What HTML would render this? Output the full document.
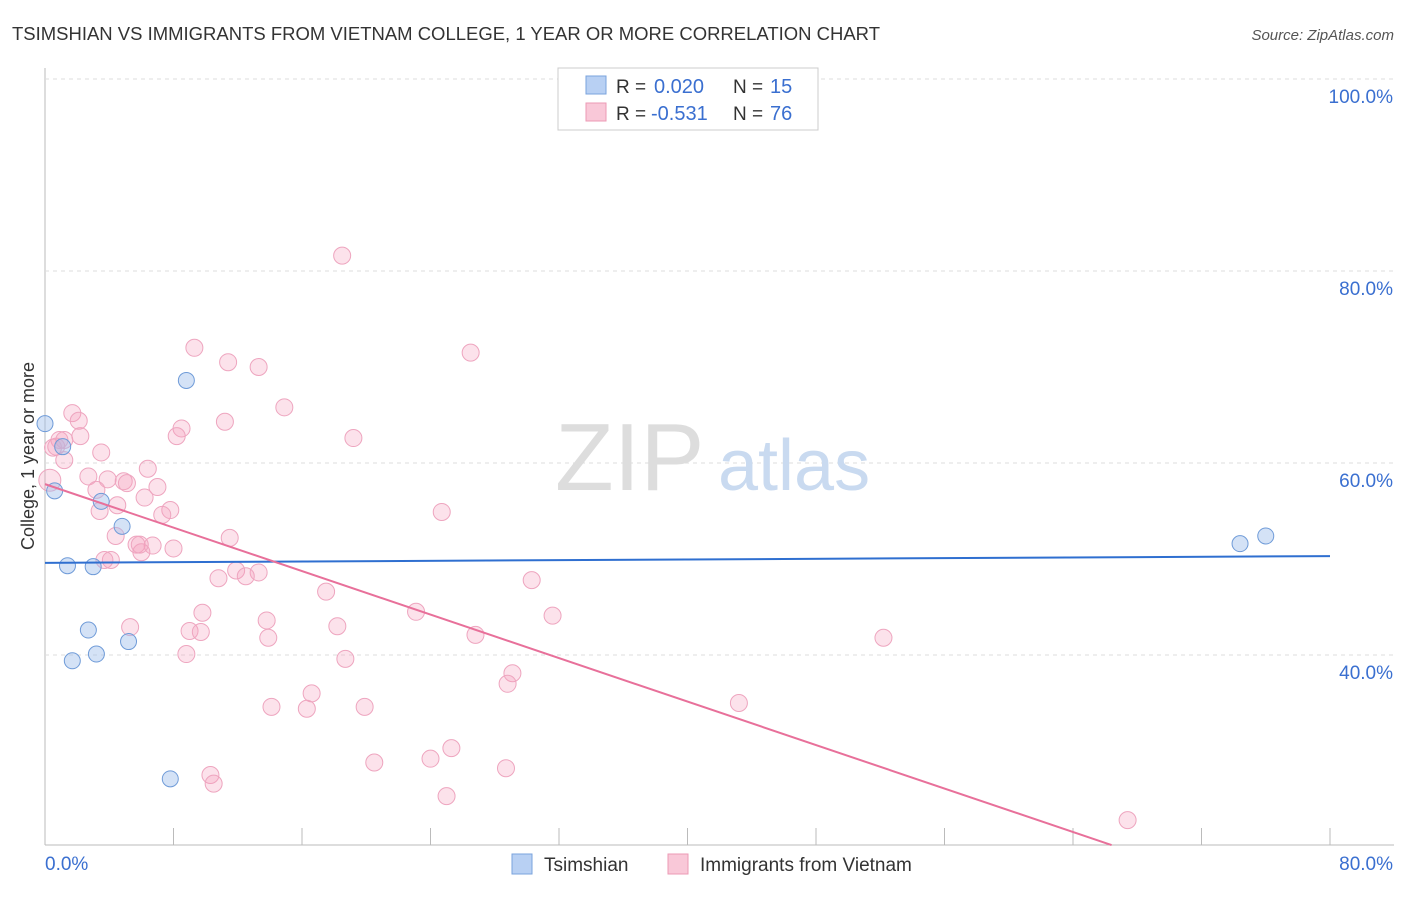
<!DOCTYPE html>
<html><head><meta charset="utf-8">
<style>
body{margin:0;background:#fff;font-family:"Liberation Sans",sans-serif;}
svg text{font-family:"Liberation Sans",sans-serif;}
</style></head>
<body>
<svg id="chart" width="1406" height="892">
<text x="12" y="40" font-size="18" fill="#333" textLength="868" lengthAdjust="spacingAndGlyphs">TSIMSHIAN VS IMMIGRANTS FROM VIETNAM COLLEGE, 1 YEAR OR MORE CORRELATION CHART</text>
<text x="1394" y="40" font-size="15" fill="#555" text-anchor="end" font-style="italic">Source: ZipAtlas.com</text>
<g id="grid"></g>
<text x="555" y="490" font-size="96" fill="#ddd" font-family="Liberation Serif">ZIP</text>
<text x="718" y="490" font-size="72" fill="#c9daf0">atlas</text>
<g id="marks"></g>
<text transform="translate(34,456) rotate(-90)" font-size="18" fill="#333" text-anchor="middle">College, 1 year or more</text>
<g>
<rect x="558" y="68" width="260" height="62" fill="#fff" stroke="#ccc"/>
<rect x="586" y="76" width="20" height="18" fill="#b8d0f3" stroke="#7aa3dd"/>
<rect x="586" y="103" width="20" height="18" fill="#f9c8d8" stroke="#ec9ab5"/>
<text x="616" y="93" font-size="19" fill="#333">R =</text>
<text x="654" y="93" font-size="20" fill="#3a6fd0">0.020</text>
<text x="733" y="93" font-size="19" fill="#333">N =</text>
<text x="770" y="93" font-size="20" fill="#3a6fd0">15</text>
<text x="616" y="120" font-size="19" fill="#333">R =</text>
<text x="651" y="120" font-size="20" fill="#3a6fd0">-0.531</text>
<text x="733" y="120" font-size="19" fill="#333">N =</text>
<text x="770" y="120" font-size="20" fill="#3a6fd0">76</text>
</g>
<g>
<rect x="512" y="854" width="20" height="20" fill="#b8d0f3" stroke="#7aa3dd"/>
<text x="544" y="871" font-size="19" fill="#333">Tsimshian</text>
<rect x="668" y="854" width="20" height="20" fill="#f9c8d8" stroke="#ec9ab5"/>
<text x="700" y="871" font-size="19" fill="#333">Immigrants from Vietnam</text>
</g>
</svg>
<script>
const xTicks=[0,8,16,24,32,40,48,56,64,72,80];
const yTicks=[40,60,80,100];
const yTickLabels=["40.0%","60.0%","80.0%","100.0%"];
const xTickLabels=["0.0%","80.0%"];
const blueX=[0,0.6,1.1,1.4,1.7,2.7,3.0,3.2,3.5,4.8,5.2,7.8,8.8,74.4,76.0];
const blueY=[64.1,57.1,61.7,49.3,39.4,42.6,49.2,40.1,56.0,53.4,41.4,27.1,68.6,51.6,52.4];
const pinkX=[18.5,9.3,26.5,11.4,13.3,14.9,1.7,2.1,11.2,8.5,8.2,19.2,1.2,2.2,0.7,3.5,6.4,2.7,3.9,4.9,5.1,7.0,3.2,6.2,4.5,7.8,3.4,7.3,24.7,4.4,11.5,5.7,6.7,8.0,6.0,4.1,11.9,13.3,10.8,12.5,30.3,17.5,9.8,23.1,13.8,31.6,18.2,5.3,9.0,9.7,13.9,26.8,52.2,8.8,18.7,29.1,28.8,16.6,43.2,14.1,16.3,19.9,25.3,24.0,20.5,28.7,10.3,10.5,25.0,67.4,0.3,0.9,1.2,3.7,5.9,0.5];
const pinkY=[81.6,72.0,71.5,70.5,70.0,65.8,65.2,64.4,64.3,63.6,62.8,62.6,62.4,62.8,61.7,61.1,59.4,58.6,58.3,58.1,57.9,57.5,57.2,56.4,55.6,55.1,55.0,54.6,54.9,52.4,52.2,51.5,51.4,51.1,50.7,49.9,48.8,48.6,48.0,48.2,47.8,46.6,44.4,44.5,43.6,44.1,43.0,42.9,42.5,42.4,41.8,42.1,41.8,40.1,39.6,38.1,37.0,36.0,35.0,34.6,34.4,34.6,30.3,29.2,28.8,28.2,27.5,26.6,25.3,22.8,58.2,62.4,60.3,49.9,51.5,61.6];
const blueLine=[[0,49.6],[80,50.3]];
const pinkLine=[[0,57.8],[66.4,20.2]];
const X=v=>45+v*1285/80, Y=v=>1039-v*9.6;
const NS="http://www.w3.org/2000/svg";
const g=document.getElementById('grid'), m=document.getElementById('marks');
function mk(tag,attrs,parent){const e=document.createElementNS(NS,tag);for(const k in attrs)e.setAttribute(k,attrs[k]);parent.appendChild(e);return e;}
let ax=mk('line',{x1:45,y1:68,x2:45,y2:845,stroke:'#bbb'},g);


let bx=mk('line',{x1:45,y1:845,x2:1394,y2:845,stroke:'#bbb'},g);


yTicks.forEach((t,i)=>{
 let l=mk('line',{x1:45,x2:1394,y1:Y(t),y2:Y(t),stroke:'#ddd','stroke-dasharray':'4,4'},g);
 
 
 let tx=mk('text',{x:1393,y:Y(t)+24,'font-size':19,fill:'#3a6fd0','text-anchor':'end'},g);tx.textContent=yTickLabels[i];
 
 
});
xTicks.forEach(t=>{
 let l=mk('line',{x1:X(t),x2:X(t),y1:828,y2:845,stroke:'#bbb'},g);
 
 
});
[[0,'start',45],[80,'end',1393]].forEach((d,i)=>{
 let tx=mk('text',{x:d[2],y:870,'font-size':19,fill:'#3a6fd0','text-anchor':d[1]},g);tx.textContent=xTickLabels[i];
 
 
});
pinkX.forEach((x,i)=>{
 let c=mk('circle',{cx:X(x),cy:Y(pinkY[i]),r:i==70?11:8.5,fill:'rgba(244,160,190,0.3)',stroke:'#eea5bf','stroke-width':1},m);
 
 
});
blueX.forEach((x,i)=>{
 let c=mk('circle',{cx:X(x),cy:Y(blueY[i]),r:8,fill:'rgba(160,190,235,0.45)',stroke:'#6f9bd8','stroke-width':1},m);
 
 
});
let bl=mk('line',{x1:X(blueLine[0][0]),y1:Y(blueLine[0][1]),x2:X(blueLine[1][0]),y2:Y(blueLine[1][1]),stroke:'#2f6fd0','stroke-width':2},m);


let pl=mk('line',{x1:X(pinkLine[0][0]),y1:Y(pinkLine[0][1]),x2:X(pinkLine[1][0]),y2:Y(pinkLine[1][1]),stroke:'#e8709a','stroke-width':2},m);


</script>
</body></html>
